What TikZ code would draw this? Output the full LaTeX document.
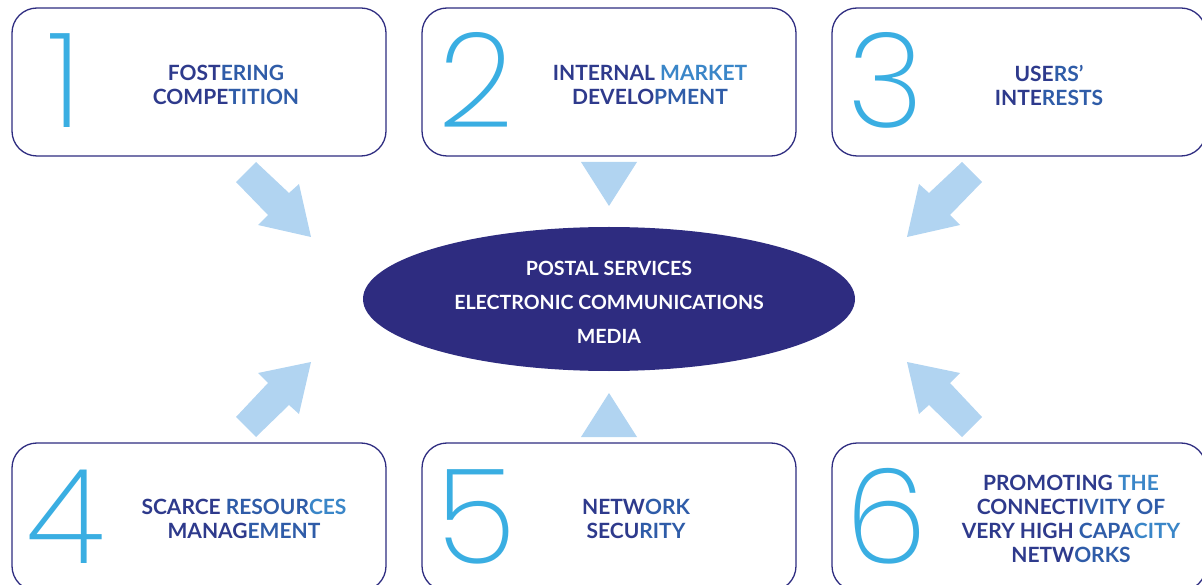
\documentclass[tikz,border=0pt]{standalone}
\usepackage{fontspec}
\setmainfont{Lato}
\newfontfamily\digitfont{Poppins ExtraLight}
\usetikzlibrary{shapes.geometric}
\definecolor{navy}{HTML}{2E2C80}
\definecolor{tdark}{HTML}{2E3A8C}
\definecolor{tmid}{HTML}{2F5CA8}
\definecolor{tlight}{HTML}{3A86C8}
\definecolor{digitblue}{HTML}{3AAEE2}
\definecolor{arrowblue}{HTML}{B1D4F1}
\tikzset{
  box/.style={draw=navy, line width=1.3pt, rounded corners=25pt, minimum width=374pt, minimum height=148pt, fill=white},
  digit/.style={text=digitblue, font=\digitfont\fontsize{132}{132}\selectfont, anchor=base, inner sep=0pt, text depth=0pt},
  label/.style={align=center, font=\bfseries\fontsize{21}{24}\selectfont, inner sep=0pt},
  core/.style={ellipse, fill=navy, minimum width=492pt, minimum height=144pt, inner sep=0pt},
  coretext/.style={align=center, text=white, font=\bfseries\fontsize{19.6}{34}\selectfont, inner sep=0pt},
  blockarrow/.style={fill=arrowblue}
}
\begin{document}
\begin{tikzpicture}[x=1pt,y=-1pt]
\useasboundingbox (0,0) rectangle (1202,585);
\clip (0,0) rectangle (1202,585);
% boxes
\node[box] (b1) at (199,82) {};
\node[box] (b2) at (609,82) {};
\node[box] (b3) at (1019,82) {};
\node[box] (b4) at (199,517) {};
\node[box] (b5) at (609,517) {};
\node[box] (b6) at (1019,517) {};
% digits
\node[digit] (d1) at (65,128) {1};
\node[digit] (d2) at (476,128) {2};
\node[digit] (d3) at (886,128) {3};
\node[digit] (d4) at (66,563) {4};
\node[digit] (d5) at (476,563) {5};
\node[digit] (d6) at (886,563) {6};
% labels
\node[label] (l1) at (226,85) {\textcolor{tdark}{FOST}\textcolor{tmid}{ERING}\\\textcolor{tdark}{COMPE}\textcolor{tmid}{TITION}};
\node[label] (l2) at (650,85) {\textcolor{tdark}{INTERNAL} \textcolor{tlight}{MARKET}\\\textcolor{tdark}{DEVELO}\textcolor{tmid}{PMENT}};
\node[label] (l3) at (1049,85) {\textcolor{tdark}{USE}\textcolor{tmid}{RS’}\\\textcolor{tdark}{INTE}\textcolor{tmid}{RESTS}};
\node[label] (l4) at (244,519) {\textcolor{tdark}{SCARCE} \textcolor{tmid}{RESOUR}\textcolor{tlight}{CES}\\\textcolor{tdark}{MANAG}\textcolor{tmid}{EMENT}};
\node[label] (l5) at (636,519) {\textcolor{tdark}{NETW}\textcolor{tmid}{ORK}\\\textcolor{tdark}{SECU}\textcolor{tmid}{RITY}};
\node[label] (l6) at (1071,519) {\textcolor{tdark}{PROMOTING} \textcolor{tlight}{THE}\\\textcolor{tdark}{CONNECTI}\textcolor{tmid}{VITY OF}\\\textcolor{tdark}{VERY HIGH} \textcolor{tmid}{CAPA}\textcolor{tlight}{CITY}\\\textcolor{tdark}{NETW}\textcolor{tmid}{ORKS}};
% centre
\node[core] (c) at (609,299) {};
\node[coretext] (ct) at (609,302) {POSTAL SERVICES\\ELECTRONIC COMMUNICATIONS\\MEDIA};
% block arrows
\fill[blockarrow] (236,182) -- (256,162) -- (289,193) -- (299,184) -- (311,237) -- (258,225) -- (268,215) -- cycle;
\fill[blockarrow] (236,417) -- (256,437) -- (289,405) -- (299,414) -- (311,362) -- (258,373) -- (268,383) -- cycle;
\fill[blockarrow] (982,182) -- (962,162) -- (929,193) -- (919,184) -- (907,237) -- (960,225) -- (950,215) -- cycle;
\fill[blockarrow] (982,417) -- (962,437) -- (929,405) -- (919,414) -- (907,362) -- (960,373) -- (950,383) -- cycle;
\fill[blockarrow] (581,162) -- (637,162) -- (609,206) -- cycle;
\fill[blockarrow] (581,437) -- (637,437) -- (609,393) -- cycle;
\end{tikzpicture}
\end{document}
